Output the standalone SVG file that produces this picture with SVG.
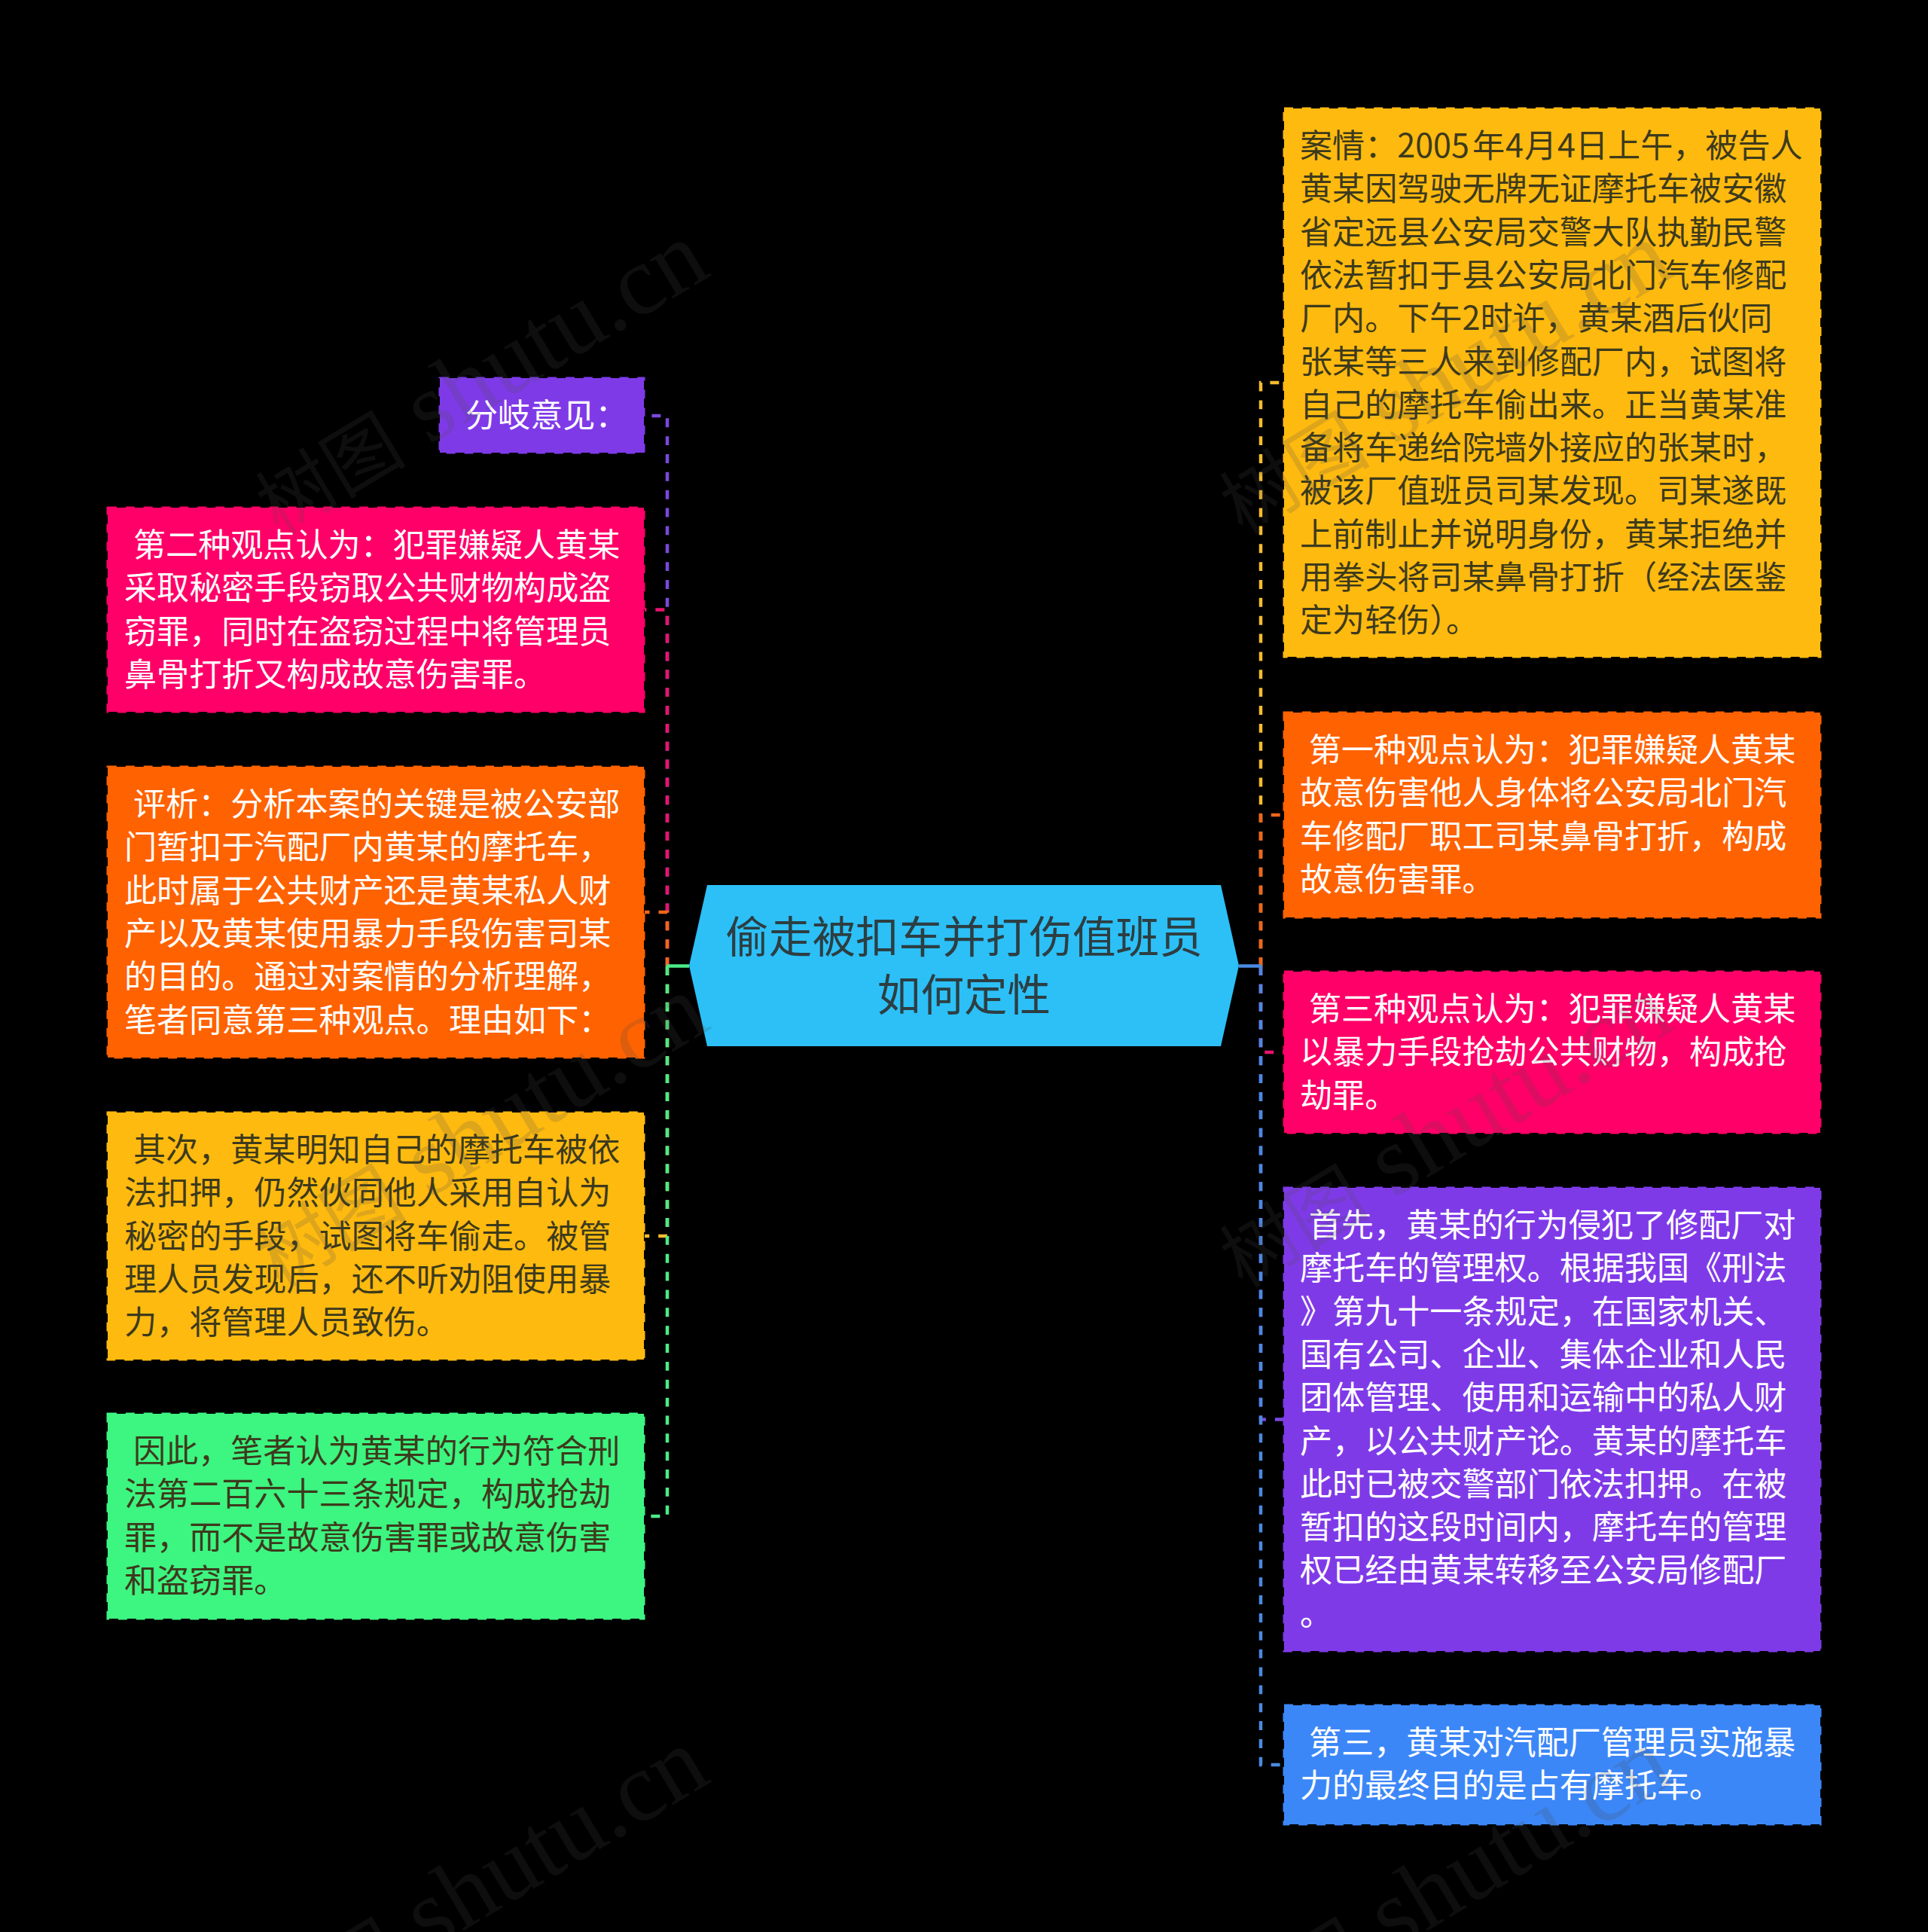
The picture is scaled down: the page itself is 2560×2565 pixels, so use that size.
<svg xmlns="http://www.w3.org/2000/svg" width="2560" height="2565" viewBox="0 0 2560 2565">
<style>
.n{stroke-width:3;stroke-dasharray:11.93 11.93}
.t{font-family:"Noto Sans CJK SC","Noto Sans",sans-serif;font-size:43.1px;fill:#fff}
.d{fill:#3d3a1c}
.h{font-family:"Noto Sans CJK SC","Noto Sans",sans-serif;font-size:57.6px;fill:#2d3e42;text-anchor:middle}
.c{fill:none;stroke-width:4.5;stroke-dasharray:11.93 11.93}
.w{font-family:"Liberation Serif","Noto Sans CJK SC",serif;font-size:131px;fill:#4a4a4a;fill-opacity:.19}
.w tspan{font-size:100px}
.pu{fill:#7f3ae8;stroke:#7f3ae8}.pk{fill:#ff0068;stroke:#ff0068}.or{fill:#ff6200;stroke:#ff6200}.ye{fill:#ffba10;stroke:#ffba10}.gr{fill:#3df581;stroke:#3df581}.bl{fill:#3c87f8;stroke:#3c87f8}
</style>
<rect id="background" width="2560" height="2565" fill="#000"/>
<g id="connectors">
<path class="c" stroke="#7b48dc" d="M886,1283V552H856"/>
<path class="c" stroke="#e8146e" d="M886,1283V809.5H856"/>
<path class="c" stroke="#f0661a" d="M886,1283V1211H856"/>
<path class="c" stroke="#f5bd2c" d="M886,1283V1641H856"/>
<path class="c" stroke="#4ceb88" d="M886,1283V2013H856"/>
<path fill="none" stroke="#4ceb88" stroke-width="4.5" d="M915,1282.5H885"/>
<path class="c" stroke="#f5bd2c" d="M1674,1283V508H1704"/>
<path class="c" stroke="#f0661a" d="M1674,1283V1082H1704"/>
<path class="c" stroke="#e8146e" d="M1674,1283V1397H1704"/>
<path class="c" stroke="#7b48dc" d="M1674,1283V1884.5H1704"/>
<path class="c" stroke="#4a8ae0" d="M1674,1283V2343H1704"/>
<path fill="none" stroke="#4a8ae0" stroke-width="4.5" d="M1645,1282.5H1675"/>
</g>
<g id="center">
<polygon points="939,1175 1621,1175 1645,1282 1621,1389 939,1389 915,1282" fill="#2cc0f7"/>
<text class="h" x="1280" y="1265">偷走被扣车并打伤值班员</text>
<text class="h" x="1280" y="1342">如何定性</text>
</g>
<g id="node-l1">
<rect class="n pu" x="584" y="502" width="271" height="99"/>
<text class="t" x="618" y="567">分岐意见：</text>
</g>
<g id="node-l2">
<rect class="n pk" x="143" y="674" width="712" height="271"/>
<text class="t" x="177" y="739">第二种观点认为：犯罪嫌疑人黄某</text>
<text class="t" x="165" y="796.3">采取秘密手段窃取公共财物构成盗</text>
<text class="t" x="165" y="853.6">窃罪，同时在盗窃过程中将管理员</text>
<text class="t" x="165" y="910.9">鼻骨打折又构成故意伤害罪。</text>
</g>
<g id="node-l3">
<rect class="n or" x="143" y="1018" width="712" height="386"/>
<text class="t" x="177" y="1083">评析：分析本案的关键是被公安部</text>
<text class="t" x="165" y="1140.3">门暂扣于汽配厂内黄某的摩托车，</text>
<text class="t" x="165" y="1197.6">此时属于公共财产还是黄某私人财</text>
<text class="t" x="165" y="1254.9">产以及黄某使用暴力手段伤害司某</text>
<text class="t" x="165" y="1312.2">的目的。通过对案情的分析理解，</text>
<text class="t" x="165" y="1369.5">笔者同意第三种观点。理由如下：</text>
</g>
<g id="node-l4">
<rect class="n ye" x="143" y="1477" width="712" height="328"/>
<text class="t d" x="177" y="1542">其次，黄某明知自己的摩托车被依</text>
<text class="t d" x="165" y="1599.3">法扣押，仍然伙同他人采用自认为</text>
<text class="t d" x="165" y="1656.6">秘密的手段，试图将车偷走。被管</text>
<text class="t d" x="165" y="1713.9">理人员发现后，还不听劝阻使用暴</text>
<text class="t d" x="165" y="1771.2">力，将管理人员致伤。</text>
</g>
<g id="node-l5">
<rect class="n gr" x="143" y="1877" width="712" height="272"/>
<text class="t d" x="177" y="1942">因此，笔者认为黄某的行为符合刑</text>
<text class="t d" x="165" y="1999.3">法第二百六十三条规定，构成抢劫</text>
<text class="t d" x="165" y="2056.6">罪，而不是故意伤害罪或故意伤害</text>
<text class="t d" x="165" y="2113.9">和盗窃罪。</text>
</g>
<g id="node-r1">
<rect class="n ye" x="1705" y="144" width="712" height="728"/>
<text class="t d" x="1726" y="209">案情：2005<tspan x="1955">年</tspan><tspan x="1999">4</tspan><tspan x="2024">月</tspan><tspan x="2068">4</tspan><tspan x="2092">日上午，被告人</tspan></text>
<text class="t d" x="1726" y="266.3">黄某因驾驶无牌无证摩托车被安徽</text>
<text class="t d" x="1726" y="323.6">省定远县公安局交警大队执勤民警</text>
<text class="t d" x="1726" y="380.9">依法暂扣于县公安局北门汽车修配</text>
<text class="t d" x="1726" y="438.2">厂内。下午2时许，黄某酒后伙同</text>
<text class="t d" x="1726" y="495.5">张某等三人来到修配厂内，试图将</text>
<text class="t d" x="1726" y="552.8">自己的摩托车偷出来。正当黄某准</text>
<text class="t d" x="1726" y="610.1">备将车递给院墙外接应的张某时，</text>
<text class="t d" x="1726" y="667.4">被该厂值班员司某发现。司某遂既</text>
<text class="t d" x="1726" y="724.7">上前制止并说明身份，黄某拒绝并</text>
<text class="t d" x="1726" y="782">用拳头将司某鼻骨打折（经法医鉴</text>
<text class="t d" x="1726" y="839.3">定为轻伤）。</text>
</g>
<g id="node-r2">
<rect class="n or" x="1705" y="946" width="712" height="272"/>
<text class="t" x="1738" y="1011">第一种观点认为：犯罪嫌疑人黄某</text>
<text class="t" x="1726" y="1068.3">故意伤害他人身体将公安局北门汽</text>
<text class="t" x="1726" y="1125.6">车修配厂职工司某鼻骨打折，构成</text>
<text class="t" x="1726" y="1182.9">故意伤害罪。</text>
</g>
<g id="node-r3">
<rect class="n pk" x="1705" y="1290" width="712" height="214"/>
<text class="t" x="1738" y="1355">第三种观点认为：犯罪嫌疑人黄某</text>
<text class="t" x="1726" y="1412.3">以暴力手段抢劫公共财物，构成抢</text>
<text class="t" x="1726" y="1469.6">劫罪。</text>
</g>
<g id="node-r4">
<rect class="n pu" x="1705" y="1577" width="712" height="615"/>
<text class="t" x="1738" y="1642">首先，黄某的行为侵犯了修配厂对</text>
<text class="t" x="1726" y="1699.3">摩托车的管理权。根据我国《刑法</text>
<text class="t" x="1726" y="1756.6">》第九十一条规定，在国家机关、</text>
<text class="t" x="1726" y="1813.9">国有公司、企业、集体企业和人民</text>
<text class="t" x="1726" y="1871.2">团体管理、使用和运输中的私人财</text>
<text class="t" x="1726" y="1928.5">产，以公共财产论。黄某的摩托车</text>
<text class="t" x="1726" y="1985.8">此时已被交警部门依法扣押。在被</text>
<text class="t" x="1726" y="2043.1">暂扣的这段时间内，摩托车的管理</text>
<text class="t" x="1726" y="2100.4">权已经由黄某转移至公安局修配厂</text>
<text class="t" x="1726" y="2157.7">。</text>
</g>
<g id="node-r5">
<rect class="n bl" x="1705" y="2264" width="712" height="158"/>
<text class="t" x="1738" y="2329">第三，黄某对汽配厂管理员实施暴</text>
<text class="t" x="1726" y="2386.3">力的最终目的是占有摩托车。</text>
</g>
<g id="watermarks">
<text class="w" transform="translate(370,711) rotate(-31)"><tspan>树图</tspan> shutu.cn</text>
<text class="w" transform="translate(1650,711) rotate(-31)"><tspan>树图</tspan> shutu.cn</text>
<text class="w" transform="translate(370,1711) rotate(-31)"><tspan>树图</tspan> shutu.cn</text>
<text class="w" transform="translate(1650,1711) rotate(-31)"><tspan>树图</tspan> shutu.cn</text>
<text class="w" transform="translate(370,2711) rotate(-31)"><tspan>树图</tspan> shutu.cn</text>
<text class="w" transform="translate(1650,2711) rotate(-31)"><tspan>树图</tspan> shutu.cn</text>
</g>
</svg>
